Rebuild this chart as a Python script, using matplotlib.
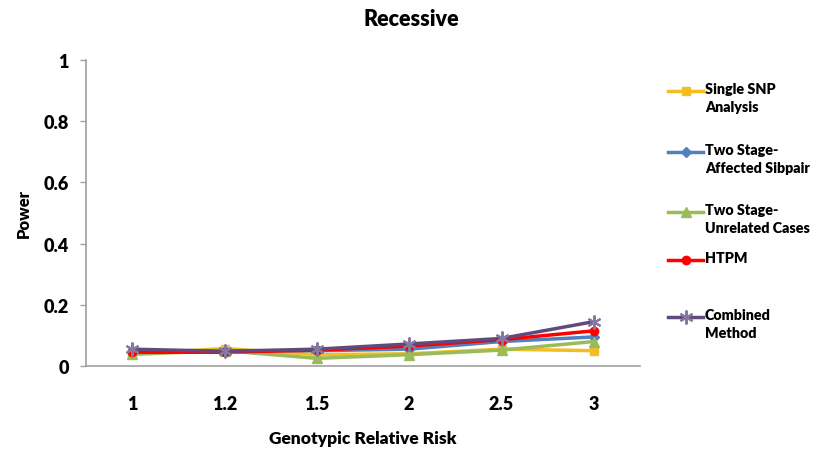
import matplotlib
matplotlib.use("Agg")
import matplotlib.pyplot as plt
from matplotlib.lines import Line2D

categories = ["1", "1.2", "1.5", "2", "2.5", "3"]
single_snp = [0.040, 0.057, 0.037, 0.040, 0.055, 0.050]
two_stage_sib = [0.050, 0.050, 0.050, 0.055, 0.080, 0.095]
two_stage_unrel = [0.038, 0.050, 0.025, 0.037, 0.052, 0.080]
htpm = [0.045, 0.045, 0.052, 0.065, 0.086, 0.115]
combined = [0.055, 0.048, 0.055, 0.072, 0.090, 0.145]

series = [
    ("Single SNP\nAnalysis", single_snp, "#F2BE22", "s", 6),
    ("Two Stage-\nAffected Sibpair", two_stage_sib, "#4F81BD", "D", 5),
    ("Two Stage-\nUnrelated Cases", two_stage_unrel, "#9BBB59", "^", 7),
    ("HTPM", htpm, "#FF0000", "o", 6),
    ("Combined\nMethod", combined, "#604A7B", (6, 2, 0), 10),
]
legend_y = [92, 153, 213, 261, 318]

FONT = "Lato"
WT = "heavy"
W, H = 819, 452
fig = plt.figure(figsize=(W / 100, H / 100), dpi=100)
ax = fig.add_axes([86 / W, 1 - 367 / H, (640 - 86) / W, (367 - 61) / H])

x = list(range(len(categories)))
for label, vals, color, marker, ms in series:
    mec = "#8878A0" if label.startswith("Combined") else color
    ax.plot(x, vals, color=color, lw=2.5, marker=marker, ms=ms,
            mfc=color, mec=mec, mew=1.5 if label.startswith("Combined") else 1)

ax.set_xlim(-0.5, len(categories) - 0.5)
ax.set_ylim(0, 1)
ax.set_yticks([0, 0.2, 0.4, 0.6, 0.8, 1.0])
ax.set_yticklabels(["0", "0.2", "0.4", "0.6", "0.8", "1"])
ax.set_xticks(x)
ax.set_xticklabels(categories)

for s in ["top", "right"]:
    ax.spines[s].set_visible(False)
for s in ["left", "bottom"]:
    ax.spines[s].set_color("#A0A0A0")
    ax.spines[s].set_linewidth(1.2)

ax.tick_params(axis="y", length=4.5, width=1, color="#A0A0A0", pad=8, labelsize=13)
ax.tick_params(axis="x", length=0, pad=21, labelsize=13)
for t in ax.get_xticklabels() + ax.get_yticklabels():
    t.set_fontfamily(FONT)
    t.set_fontweight(WT)

ax.set_ylabel("Power", fontsize=12, fontweight=WT, family=FONT, labelpad=8)
ax.set_xlabel("Genotypic Relative Risk", fontsize=12.5, fontweight=WT, family=FONT, labelpad=13)
fig.text(411 / W, 1 - 20 / H, "Recessive", ha="center", va="center",
         fontsize=15.5, fontweight=WT, family=FONT)

# legend drawn manually
for (label, vals, color, marker, ms), ly in zip(series, legend_y):
    yf = 1 - ly / H
    mec = "#8878A0" if label.startswith("Combined") else color
    fig.add_artist(Line2D([668 / W, 703 / W], [yf, yf], transform=fig.transFigure,
                          color=color, lw=2.5))
    fig.add_artist(Line2D([685.5 / W], [yf], transform=fig.transFigure,
                          color=color, marker=marker, ms=ms, mfc=color, mec=mec,
                          mew=1.5 if label.startswith("Combined") else 1))
    fig.text(705 / W, yf + 9 / H, label, ha="left", va="top", fontsize=10.3,
             fontweight=WT, family=FONT, linespacing=1.45)

fig.savefig("out.png", dpi=100)
